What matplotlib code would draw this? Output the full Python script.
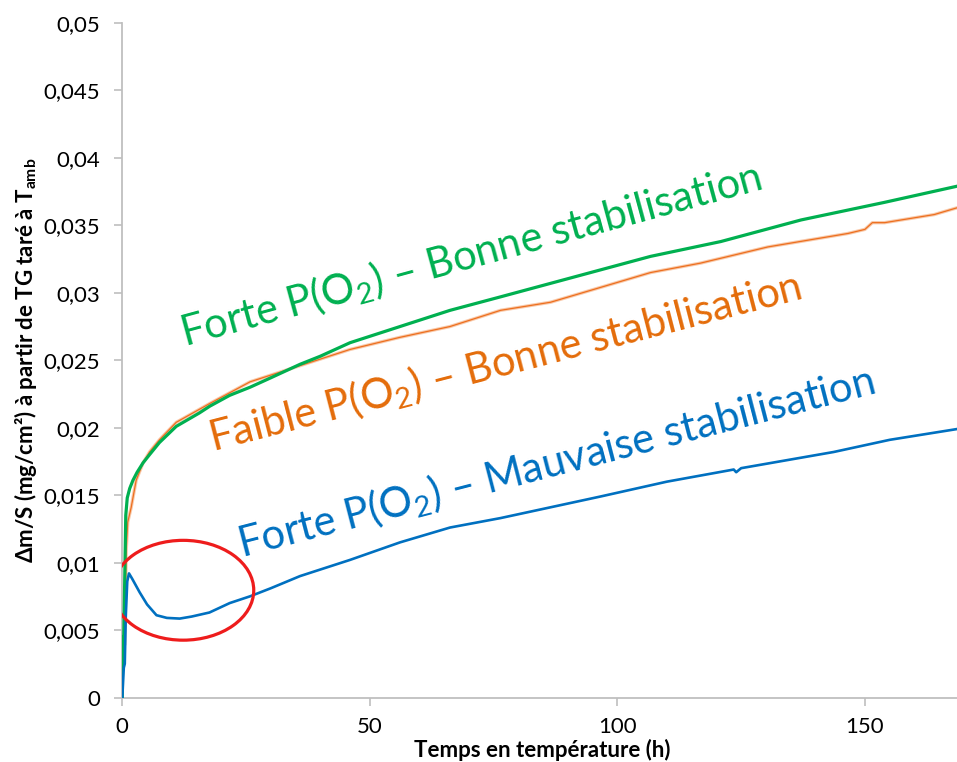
import matplotlib
matplotlib.use("Agg")
import matplotlib.pyplot as plt
from matplotlib.patches import Ellipse
from matplotlib.ticker import FuncFormatter

plt.rcParams['font.family'] = ['Lato', 'DejaVu Sans']
plt.rcParams['mathtext.fontset'] = 'custom'
plt.rcParams['mathtext.rm'] = 'Lato'
plt.rcParams['mathtext.it'] = 'Lato:italic'
plt.rcParams['mathtext.bf'] = 'Lato:bold'

# Forte P(O2) - bonne stabilisation
t_fb = [0, 0.05, 0.3, 0.5, 0.7, 1.0, 1.5, 2.15, 3, 4.2, 5.5, 7.5, 10.9, 15.6,
        17.7, 21.7, 25.8, 30, 35.9, 40, 46, 56.1, 66.2, 76.4, 86.5, 96.6,
        106.7, 120.9, 137.1, 153.9, 168.6]
m_fb = [0, 0.0045, 0.0046, 0.009, 0.0135, 0.0148, 0.0155, 0.0161, 0.0167,
        0.0174, 0.018, 0.0189, 0.0201, 0.0211, 0.0216, 0.0224, 0.0230, 0.0237,
        0.0247, 0.0253, 0.0263, 0.0275, 0.0287, 0.0297, 0.0307, 0.0317,
        0.0327, 0.0338, 0.0354, 0.0367, 0.0379]

# Faible P(O2) - bonne stabilisation
t_fa = [0.5, 0.8, 1.1, 1.8, 2.8, 4.2, 5.5, 7.5, 10.9, 17.7, 25.8, 35.9, 46,
        56.1, 66.2, 76.4, 86.5, 96.6, 106.7, 116.8, 130.4, 146.6, 150, 151.5,
        154, 164, 168.6]
m_fa = [0.004, 0.011, 0.013, 0.0141, 0.0161, 0.0174, 0.0182, 0.0191, 0.0204,
        0.0218, 0.0234, 0.0246, 0.0258, 0.0267, 0.0275, 0.0287, 0.0293,
        0.0304, 0.0315, 0.0322, 0.0334, 0.0344, 0.0347, 0.0352, 0.0352,
        0.0358, 0.0363]

# Forte P(O2) - mauvaise stabilisation
t_fm = [0, 0.3, 0.5, 0.7, 1.0, 1.35, 2, 3.5, 5, 6.9, 9, 11.6, 14, 17.6, 21.7,
        25.8, 30, 35.9, 46, 56.1, 66.2, 76.4, 86.5, 96.6, 110, 123.5, 124,
        125, 143.7, 155, 168.6]
m_fm = [0, 0.0022, 0.0025, 0.006, 0.0086, 0.0092, 0.0088, 0.0078, 0.0069,
        0.0061, 0.0059, 0.00585, 0.006, 0.0063, 0.0070, 0.0075, 0.0081,
        0.0090, 0.0102, 0.0115, 0.0126, 0.0133, 0.0141, 0.0149, 0.0160,
        0.0169, 0.0167, 0.0170, 0.0182, 0.0191, 0.0199]

x_ticks = [0, 50, 100, 150]
y_ticks = [0, 0.005, 0.01, 0.015, 0.02, 0.025, 0.03, 0.035, 0.04, 0.045, 0.05]

W, H = 957, 762
fig = plt.figure(figsize=(W / 100, H / 100), dpi=100)
ax = fig.add_axes([122.3 / W, 1 - 697.5 / H, (W - 122.3) / W, 674.5 / H])

ax.plot(t_fa, m_fa, color='#f4a672', lw=2.4, alpha=0.6, zorder=2)
ax.plot(t_fa, m_fa, color='#ed6f1f', lw=0.9, zorder=3)
ax.plot(t_fb, m_fb, color='#00b050', lw=2.3, zorder=4)
ax.plot(t_fm, m_fm, color='#0070c0', lw=1.9, zorder=4)

# cercle rouge autour du pic initial
ax.add_patch(Ellipse((12.3, 0.00795), 28.5, 0.0074, fill=False,
                     edgecolor='#ee1c1c', lw=2.3, zorder=5))

# étiquettes inclinées (coordonnées pixel, origine en bas à gauche)
ax.text(185, H - 347, 'Forte P(O$_{2}$) – Bonne stabilisation', transform=None,
        color='#00b050', fontsize=30, rotation=15.2, rotation_mode='anchor',
        ha='left', va='baseline')
ax.text(213, H - 452, 'Faible P(O$_{2}$) – Bonne stabilisation', transform=None,
        color='#e46c0a', fontsize=30, rotation=14.5, rotation_mode='anchor',
        ha='left', va='baseline')
ax.text(242, H - 558, 'Forte P(O$_{2}$) – Mauvaise stabilisation', transform=None,
        color='#0070c0', fontsize=30, rotation=14.5, rotation_mode='anchor',
        ha='left', va='baseline')

ax.set_xlim(0, 168.6)
ax.set_ylim(0, 0.05)
ax.set_xticks(x_ticks)
ax.set_yticks(y_ticks)
ax.yaxis.set_major_formatter(FuncFormatter(lambda v, p: ('%g' % round(v, 4)).replace('.', ',')))
ax.tick_params(labelsize=16, labelcolor='#000000', color='#bfbfbf', length=6, width=1.2)
ax.tick_params(axis='x', pad=8)
ax.tick_params(axis='y', pad=10)

for side in ['top', 'right']:
    ax.spines[side].set_visible(False)
for side in ['left', 'bottom']:
    ax.spines[side].set_color('#bfbfbf')
    ax.spines[side].set_linewidth(1.3)

ax.set_xlabel('Temps en température (h)', fontsize=16, fontweight='bold')
ax.xaxis.set_label_coords(0.503, -0.061)
ax.set_ylabel('Δm/S (mg/cm²) à partir de TG taré à T$_{\\mathbf{amb}}$',
              fontsize=16, fontweight='bold')
ax.yaxis.set_label_coords(-0.1, 0.5)

fig.savefig('out.png', dpi=100)
